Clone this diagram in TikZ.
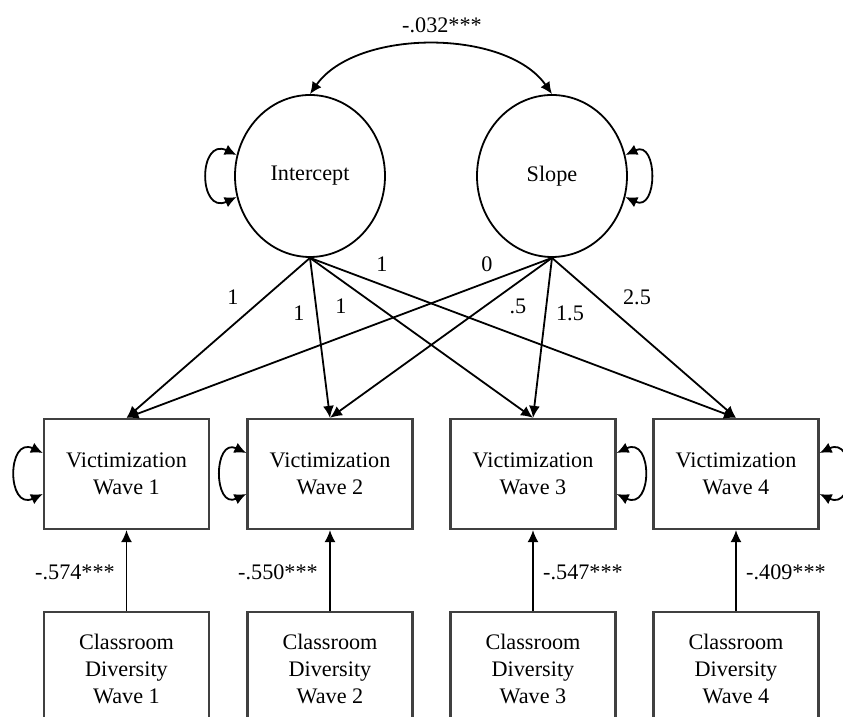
\documentclass[tikz,border=0pt]{standalone}
\usepackage{fontspec}
\setmainfont{Liberation Serif}
\usetikzlibrary{arrows.meta,shapes.geometric}

\begin{document}
\begin{tikzpicture}[x=0.5pt,y=0.5pt,
    font=\fontsize{11.1}{13.7}\selectfont,
    latent/.style={draw,ellipse,line width=0.9pt,minimum width=75pt,minimum height=81pt,inner sep=0pt},
    observed/.style={draw=black!75,line width=1.1pt,minimum width=82.5pt,minimum height=55pt,align=center,inner sep=0pt},
    covariate/.style={observed,minimum height=57pt},
    regpath/.style={-{Latex[length=6pt,width=5.5pt]},line width=0.9pt},
    covarrow/.style={{Latex[length=6pt,width=5.5pt]}-{Latex[length=6pt,width=5.5pt]},line width=0.9pt}]
    \useasboundingbox (0,0) rectangle (843,717);
    \clip (0,0) rectangle (843,717);

    % Growth factors
    \node[latent] (int) at (310,541) {Intercept};
    \node[latent] (slope) at (552,541) {Slope};
    \draw[covarrow] (int.north) to[out=55,in=125,looseness=0.85] (slope.north);
    \node (covlab) at (442,692) {-.032***};
    \draw[covarrow] (int.164) to[out=155,in=205,looseness=2.6] (int.196);
    \draw[covarrow] (slope.16) to[out=25,in=-25,looseness=2.2] (slope.-16);

    % Waves
    \foreach \w/\x in {1/126.5,2/330,3/533,4/736} {
        \node[observed] (v\w) at (\x,243) {Victimization\\Wave \w};
        \node[covariate] (d\w) at (\x,48) {Classroom\\Diversity\\Wave \w};
        \draw[regpath] (d\w) -- (v\w);
        \draw[regpath] (int.south) -- (v\w.north);
        \draw[regpath] (slope.south) -- (v\w.north);
    }

    % Residual variances
    \draw[covarrow] ([yshift=10.5pt]v1.west) to[out=155,in=205,looseness=2.5] ([yshift=-10pt]v1.west);
    \draw[covarrow] ([yshift=10.5pt]v2.west) to[out=155,in=205,looseness=2.3] ([yshift=-10pt]v2.west);
    \draw[covarrow] ([yshift=10.5pt]v3.east) to[out=25,in=-25,looseness=2.5] ([yshift=-10pt]v3.east);
    \draw[covarrow] ([yshift=10.5pt]v4.east) to[out=25,in=-25,looseness=2.5] ([yshift=-10pt]v4.east);

    % Loadings
    \node (li1) at (233,420) {1};
    \node (li2) at (299,404) {1};
    \node (li3) at (341,411) {1};
    \node (li4) at (382,453) {1};
    \node (ls1) at (487,453) {0};
    \node (ls2) at (518,411) {.5};
    \node (ls3) at (570,404) {1.5};
    \node (ls4) at (637,420) {2.5};

    % Diversity effects
    \node (b1) at (75,145) {-.574***};
    \node (b2) at (278,145) {-.550***};
    \node (b3) at (583,145) {-.547***};
    \node (b4) at (786,145) {-.409***};
\end{tikzpicture}
\end{document}
